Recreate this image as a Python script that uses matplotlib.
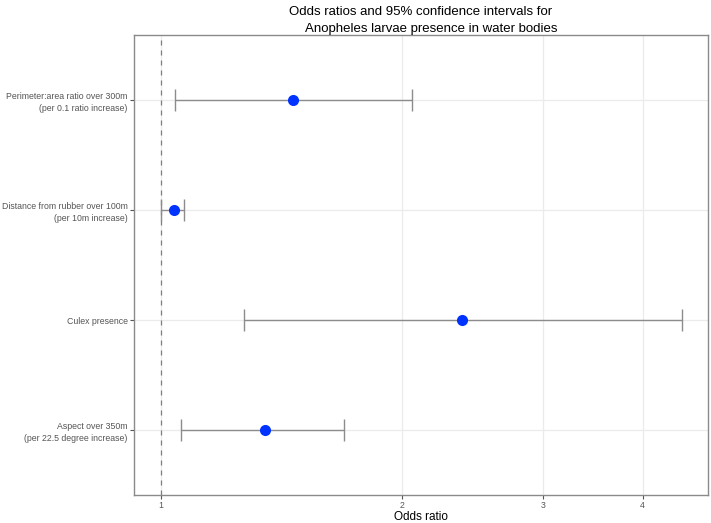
import matplotlib
matplotlib.use("Agg")
import matplotlib.pyplot as plt
from matplotlib.ticker import FixedLocator, NullLocator, FixedFormatter

plt.rcParams['font.family'] = ['Liberation Sans', 'DejaVu Sans']

labels = ["Aspect over 350m\n(per 22.5 degree increase)",
          "Culex presence",
          "Distance from rubber over 100m\n(per 10m increase)",
          "Perimeter:area ratio over 300m\n(per 0.1 ratio increase)"]
odds = [1.349, 2.378, 1.038, 1.462]
lower = [1.059, 1.27, 1.001, 1.041]
upper = [1.694, 4.48, 1.068, 2.06]
xticks = [1, 2, 3, 4]

fig = plt.figure(figsize=(7.11, 5.23), dpi=100)
ax = fig.add_axes([0.1885, 0.0535, 0.9958 - 0.1885, 0.9331 - 0.0535])

ypos = list(range(1, len(labels) + 1))
ax.set_xscale('log')
ax.set_xlim(0.925, 4.83)
ax.set_ylim(0.41, 4.59)

ax.xaxis.set_major_locator(FixedLocator(xticks))
ax.xaxis.set_major_formatter(FixedFormatter([str(t) for t in xticks]))
ax.xaxis.set_minor_locator(NullLocator())
ax.set_yticks(ypos)
ax.set_yticklabels(labels, ha='right', multialignment='right', linespacing=1.45)

ax.grid(True, which='major', color='#EBEBEB', linewidth=0.9, zorder=0)
ax.set_axisbelow(True)

ax.axvline(1, color='#7f7f7f', linestyle=(0, (4, 4)), linewidth=0.9, zorder=1)

xerr_lo = [o - l for o, l in zip(odds, lower)]
xerr_hi = [u - o for o, u in zip(odds, upper)]
ax.errorbar(odds, ypos, xerr=[xerr_lo, xerr_hi], fmt='none', ecolor='#8c8c8c',
            elinewidth=1.0, capsize=8, capthick=1.0, zorder=2)
ax.plot(odds, ypos, 'o', color='#0033FF', markersize=8, markeredgewidth=0, zorder=3)

for s in ax.spines.values():
    s.set_color('#8a8a8a')
    s.set_linewidth(1.0)

ax.tick_params(axis='both', which='major', length=3, width=0.8, color='#555555',
               labelsize=6.3, labelcolor='#555555', pad=1.5)
ax.tick_params(axis='x', pad=1)

ax.set_xlabel('Odds ratio', fontsize=8.5, color='black', labelpad=1)
ax.set_title('Odds ratios and 95% confidence intervals for\n'
             '      Anopheles larvae presence in water bodies',
             fontsize=9.5, color='black', pad=2, linespacing=1.55)

fig.savefig('out.png', dpi=100)
